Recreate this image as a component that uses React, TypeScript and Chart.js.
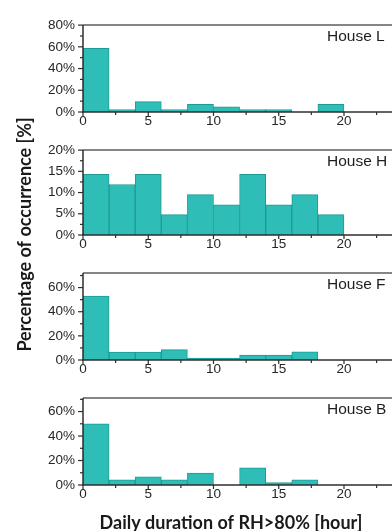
import { useEffect, useRef } from 'react';
import { Chart, registerables } from 'chart.js';

Chart.register(...registerables);

// Histogram bins: daily hours with RH above 80 %, 2-hour wide bins
const binStarts = [0, 2, 4, 6, 8, 10, 12, 14, 16, 18];
const BIN_WIDTH = 2;

// Share of days per bin [%]
const houseL = [58.5, 2.3, 9.5, 2.3, 7.0, 4.7, 2.3, 2.3, 0, 7.0];
const houseH = [14.3, 11.9, 14.3, 4.8, 9.5, 7.1, 14.3, 7.1, 9.5, 4.8];
const houseF = [53.0, 6.6, 6.6, 8.6, 1.6, 1.6, 4.1, 4.1, 6.7, 0];
const houseB = [50.0, 4.2, 6.7, 4.2, 9.7, 0, 14.1, 2.0, 4.2, 0];

// Axis ticks
const xMajorTicks = [0, 5, 10, 15, 20];
const xMinorTicks = [2.5, 7.5, 12.5, 17.5, 22.5];
const yMajorWide = [0, 20, 40, 60, 80];
const yMinorWide = [10, 30, 50, 70];
const yMajorNarrow = [0, 5, 10, 15, 20];
const yMinorNarrow = [2.5, 7.5, 12.5, 17.5];
const yMajorMid = [0, 20, 40, 60];
const yMinorMid = [10, 30, 50, 70];

const X_MAX = 23.68;

const Y_TITLE = 'Percentage of occurrence [%]';
const X_TITLE = 'Daily duration of RH>80% [hour]';

type Panel = {
  name: string;
  values: number[];
  yMax: number;
  yMajor: number[];
  yMinor: number[];
};

const panels: Panel[] = [
  { name: 'House L', values: houseL, yMax: 80, yMajor: yMajorWide, yMinor: yMinorWide },
  { name: 'House H', values: houseH, yMax: 20, yMajor: yMajorNarrow, yMinor: yMinorNarrow },
  { name: 'House F', values: houseF, yMax: 72, yMajor: yMajorMid, yMinor: yMinorMid },
  { name: 'House B', values: houseB, yMax: 71, yMajor: yMajorMid, yMinor: yMinorMid },
];

// Layout of the stacked panels (page pixels)
const W = 392;
const H = 531;
const PLOT_LEFT = 83;
const PAD_TOP = 8;
const X_AXIS_H = 20;
const plotBoxes = [
  { top: 17, bottom: 112 },
  { top: 142, bottom: 235 },
  { top: 265, bottom: 360 },
  { top: 390, bottom: 485 },
];

const TICK_FONT = { family: '"Liberation Sans", Arial, sans-serif', size: 13.5 };
const TITLE_FONT = 'Lato, "Open Sans", sans-serif';

const panelDecor = {
  id: 'panelDecor',
  afterDatasetsDraw(chart: any, _args: any, opts: any) {
    const { ctx, chartArea: a, scales } = chart;
    const xs = scales.x;
    const ys = scales.y;
    const seg = (x1: number, y1: number, x2: number, y2: number) => {
      ctx.beginPath();
      ctx.moveTo(x1, y1);
      ctx.lineTo(x2, y2);
      ctx.stroke();
    };
    ctx.save();
    // frame top
    ctx.strokeStyle = '#5c5c5c';
    ctx.lineWidth = 1.5;
    seg(a.left, a.top, a.right, a.top);
    // axis lines
    ctx.strokeStyle = '#2e2e2e';
    seg(a.left, a.top, a.left, a.bottom);
    seg(a.left - 0.75, a.bottom, a.right, a.bottom);
    // y ticks
    ctx.lineWidth = 1.2;
    for (const v of opts.yMajor) {
      const py = ys.getPixelForValue(v);
      seg(a.left - 5, py, a.left, py);
    }
    for (const v of opts.yMinor) {
      const py = ys.getPixelForValue(v);
      seg(a.left - 3, py, a.left, py);
    }
    // x ticks
    for (const v of xMajorTicks) {
      const px = xs.getPixelForValue(v);
      seg(px, a.bottom, px, a.bottom + 4);
    }
    for (const v of xMinorTicks) {
      const px = xs.getPixelForValue(v);
      seg(px, a.bottom, px, a.bottom + 3);
    }
    // panel label
    ctx.fillStyle = '#1e1e1e';
    ctx.font = '15.5px "Liberation Sans", Arial, sans-serif';
    ctx.textAlign = 'left';
    ctx.textBaseline = 'top';
    ctx.fillText(opts.name, a.right - 65, a.top + 4);
    ctx.restore();
  },
};

function HistogramPanel({ panel, box }: { panel: Panel; box: { top: number; bottom: number } }) {
  const ref = useRef<HTMLCanvasElement | null>(null);
  const height = PAD_TOP + (box.bottom - box.top) + X_AXIS_H;

  useEffect(() => {
    if (!ref.current) return;
    const chart = new Chart(ref.current, {
      type: 'bar',
      data: {
        datasets: [
          {
            data: binStarts.map((s, i) => ({ x: s + BIN_WIDTH / 2, y: panel.values[i] })),
            backgroundColor: '#2fbdb7',
            borderColor: '#1f9a94',
            borderWidth: 1,
            barPercentage: 1,
            categoryPercentage: 1,
          },
        ],
      },
      options: {
        animation: false,
        responsive: false,
        maintainAspectRatio: false,
        layout: { padding: { top: PAD_TOP, left: 0, right: 0, bottom: 0 } },
        plugins: {
          legend: { display: false },
          tooltip: { enabled: false },
          panelDecor: { name: panel.name, yMajor: panel.yMajor, yMinor: panel.yMinor },
        } as any,
        scales: {
          x: {
            type: 'linear',
            min: 0,
            max: X_MAX,
            offset: false,
            grid: { display: false, drawTicks: false },
            border: { display: false },
            afterBuildTicks: (s: any) => {
              s.ticks = xMajorTicks.map((v) => ({ value: v }));
            },
            afterFit: (s: any) => {
              s.height = X_AXIS_H;
            },
            ticks: {
              padding: 1,
              color: '#262626',
              font: TICK_FONT,
              maxRotation: 0,
              autoSkip: false,
            },
          },
          y: {
            min: 0,
            max: panel.yMax,
            grid: { display: false, drawTicks: false },
            border: { display: false },
            afterBuildTicks: (s: any) => {
              s.ticks = panel.yMajor.map((v) => ({ value: v }));
            },
            afterFit: (s: any) => {
              s.width = PLOT_LEFT;
            },
            ticks: {
              padding: 8,
              color: '#262626',
              font: TICK_FONT,
              callback: (v: any) => `${v}%`,
            },
          },
        },
      },
      plugins: [panelDecor],
    });
    return () => chart.destroy();
  }, [panel]);

  return (
    <canvas
      ref={ref}
      width={W}
      height={height}
      style={{ position: 'absolute', left: 0, top: box.top - PAD_TOP, width: W, height }}
    />
  );
}

// Shared axis titles, drawn on a transparent overlay spanning all panels
function AxisTitles() {
  const ref = useRef<HTMLCanvasElement | null>(null);
  useEffect(() => {
    const cv = ref.current;
    if (!cv) return;
    const ctx = cv.getContext('2d');
    if (!ctx) return;
    const draw = () => {
      ctx.clearRect(0, 0, W, H);
      ctx.fillStyle = '#1a1a1a';
      ctx.textAlign = 'center';
      ctx.textBaseline = 'alphabetic';
      ctx.font = `bold 18px ${TITLE_FONT}`;
      ctx.save();
      ctx.translate(31, 234.5);
      ctx.rotate(-Math.PI / 2);
      ctx.fillText(Y_TITLE, 0, 0);
      ctx.restore();
      ctx.fillText(X_TITLE, 231, 529);
    };
    draw();
    (document as any).fonts?.ready?.then(draw);
  }, []);
  return (
    <canvas
      ref={ref}
      width={W}
      height={H}
      style={{ position: 'absolute', left: 0, top: 0, width: W, height: H, pointerEvents: 'none' }}
    />
  );
}

export default function App() {
  return (
    <div
      style={{
        position: 'fixed',
        left: 0,
        top: 0,
        width: W,
        height: H,
        background: '#fff',
        overflow: 'hidden',
      }}
    >
      {panels.map((p, i) => (
        <HistogramPanel key={p.name} panel={p} box={plotBoxes[i]} />
      ))}
      <AxisTitles />
    </div>
  );
}
